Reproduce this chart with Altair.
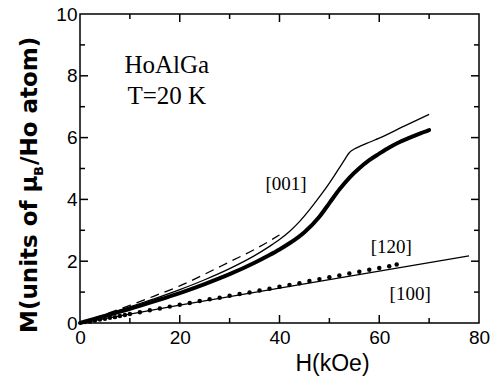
import altair as alt
import pandas as pd

# ---- data ----
thin001_H = [0, 5, 10, 15, 20, 25, 30, 35, 38, 40, 42, 44, 46, 48, 50, 51, 52, 53, 53.5, 54, 54.5, 55, 56, 57, 58, 60, 65, 70]
thin001_M = [0, 0.26, 0.52, 0.79, 1.08, 1.40, 1.76, 2.18, 2.48, 2.70, 2.96, 3.28, 3.66, 4.08, 4.53, 4.77, 5.02, 5.27, 5.40, 5.51, 5.58, 5.63, 5.71, 5.78, 5.85, 5.98, 6.37, 6.75]

dash001_H = [0, 5, 10, 15, 20, 25, 30, 35, 40]
dash001_M = [0, 0.28, 0.57, 0.88, 1.20, 1.58, 1.98, 2.38, 2.85]

thick001_H = [0, 5, 10, 15, 20, 25, 30, 35, 38, 40, 42, 45, 48, 50, 52, 54, 56, 58, 60, 62, 64, 66, 68, 70]
thick001_M = [0, 0.23, 0.46, 0.71, 0.97, 1.26, 1.58, 1.95, 2.20, 2.38, 2.58, 2.94, 3.44, 3.88, 4.32, 4.70, 5.01, 5.27, 5.48, 5.68, 5.85, 5.99, 6.12, 6.24]

line100_H = [0, 10, 20, 40, 60, 78]
line100_M = [0, 0.29, 0.58, 1.13, 1.68, 2.17]

dots120_H = [1, 2, 3, 4, 5, 6, 7, 8, 9, 10, 12, 14, 16, 18, 20, 22, 24, 26, 28, 30, 32, 34,
             36, 38, 40, 42, 44, 46, 48, 50, 52, 54, 56, 58, 60, 62, 63.5]
dots120_M = [0.03, 0.05, 0.08, 0.11, 0.14, 0.17, 0.19, 0.23, 0.26, 0.29, 0.35, 0.41, 0.47, 0.53,
             0.59, 0.65, 0.71, 0.77, 0.82, 0.88, 0.94, 0.99, 1.05, 1.11, 1.17, 1.23, 1.29, 1.36,
             1.42, 1.48, 1.54, 1.60, 1.66, 1.72, 1.78, 1.84, 1.89]

x_ticks = [0, 20, 40, 60, 80]
y_ticks = [0, 2, 4, 6, 8, 10]
x_major = [20, 40, 60]
x_minor = [10, 30, 50, 70]
y_major = [2, 4, 6, 8]
y_minor = [1, 3, 5, 7, 9]

info_lines = ["HoAlGa", "T=20 K"]
info_H = [17.4, 17.4]
info_M = [8.09, 7.09]

dir_labels = ["[001]", "[120]", "[100]"]
dir_H = [41.3, 62.4, 66.2]
dir_M = [4.29, 2.27, 0.74]

W, H = 399, 309

xscale = alt.Scale(domain=[0, 80], nice=False, zero=False)
yscale = alt.Scale(domain=[0, 10], nice=False, zero=False)

xaxis = alt.Axis(values=x_ticks, title="H(kOe)", titleFont="Liberation Sans", titleFontSize=23,
                 titleFontWeight="normal", titleColor="black", titleX=252, titleY=47,
                 titleAlign="center", titleBaseline="alphabetic",
                 labelFont="Liberation Sans", labelFontSize=19, labelColor="black",
                 labelPadding=5, ticks=False, tickSize=0, domain=False, grid=False,
                 labelFlush=False, labelOverlap=False)
yaxis = alt.Axis(values=y_ticks, title=None,
                 labelFont="Liberation Sans", labelFontSize=19, labelColor="black",
                 labelPadding=3, ticks=False, tickSize=0, domain=False, grid=False,
                 labelFlush=False, labelOverlap=False)


def X(f):
    return alt.X(f, type="quantitative", scale=xscale, axis=xaxis)


def Y(f):
    return alt.Y(f, type="quantitative", scale=yscale, axis=yaxis)


def line_layer(hs, ms, **kw):
    df = pd.DataFrame({"H": hs, "M": ms})
    return alt.Chart(df).mark_line(color="black", **kw).encode(x=X("H"), y=Y("M"))


thin = line_layer(thin001_H, thin001_M, strokeWidth=1.3, interpolate="monotone")
dash = line_layer(dash001_H, dash001_M, strokeWidth=1.3, strokeDash=[9, 6], interpolate="monotone")
thick = line_layer(thick001_H, thick001_M, strokeWidth=4, strokeCap="round", interpolate="monotone")
l100 = line_layer(line100_H, line100_M, strokeWidth=1.3)

dots = alt.Chart(pd.DataFrame({"H": dots120_H, "M": dots120_M})).mark_circle(
    color="black", size=20, opacity=1).encode(x=X("H"), y=Y("M"))


def xrule(vals, y0, y1):
    return alt.Chart(pd.DataFrame({"H": vals})).mark_rule(color="black", strokeWidth=1.5).encode(
        x=X("H"), y=alt.value(y0), y2=alt.value(y1))


def yrule(vals, x0, x1):
    return alt.Chart(pd.DataFrame({"M": vals})).mark_rule(color="black", strokeWidth=1.5).encode(
        y=Y("M"), x=alt.value(x0), x2=alt.value(x1))


ticks = [
    xrule(x_major, H, H - 8), xrule(x_minor, H, H - 5),
    xrule(x_major, 0, 8), xrule(x_minor, 0, 5),
    yrule(y_major, 0, 8), yrule(y_minor, 0, 5),
    yrule(y_major, W, W - 8), yrule(y_minor, W, W - 5),
]

info = alt.Chart(pd.DataFrame({"H": info_H, "M": info_M, "t": info_lines})).mark_text(
    font="Liberation Serif", fontSize=25, color="black", align="center", baseline="alphabetic"
).encode(x=X("H"), y=Y("M"), text="t:N")

dirs = alt.Chart(pd.DataFrame({"H": dir_H, "M": dir_M, "t": dir_labels})).mark_text(
    font="Liberation Serif", fontSize=19, color="black", align="center", baseline="alphabetic"
).encode(x=X("H"), y=Y("M"), text="t:N")

# y-axis title with subscript B, built from three pieces
ytitle_font = "DejaVu Sans"
yt1 = alt.Chart(pd.DataFrame({"t": ["M(units of μ"]})).mark_text(
    font=ytitle_font, fontSize=23, fontWeight="bold", color="black", angle=270,
    align="left", baseline="alphabetic"
).encode(x=alt.value(-43), y=alt.value(319), text="t:N")
yt2 = alt.Chart(pd.DataFrame({"t": ["B"]})).mark_text(
    font=ytitle_font, fontSize=13, fontWeight="bold", color="black", angle=270,
    align="center", baseline="alphabetic"
).encode(x=alt.value(-37), y=alt.value(157), text="t:N")
yt3 = alt.Chart(pd.DataFrame({"t": ["/Ho atom)"]})).mark_text(
    font=ytitle_font, fontSize=23, fontWeight="bold", color="black", angle=270,
    align="left", baseline="alphabetic"
).encode(x=alt.value(-43), y=alt.value(151), text="t:N")

chart = alt.layer(
    l100, dots, dash, thin, thick, *ticks, info, dirs, yt1, yt2, yt3
).properties(
    width=W, height=H,
    autosize=alt.AutoSizeParams(type="none"),
    padding={"left": 80, "top": 14, "right": 16, "bottom": 54},
    background="white",
).configure_view(stroke="black", strokeWidth=1.5)

chart.save("out.html", embed_options={"renderer": "svg", "actions": False})
